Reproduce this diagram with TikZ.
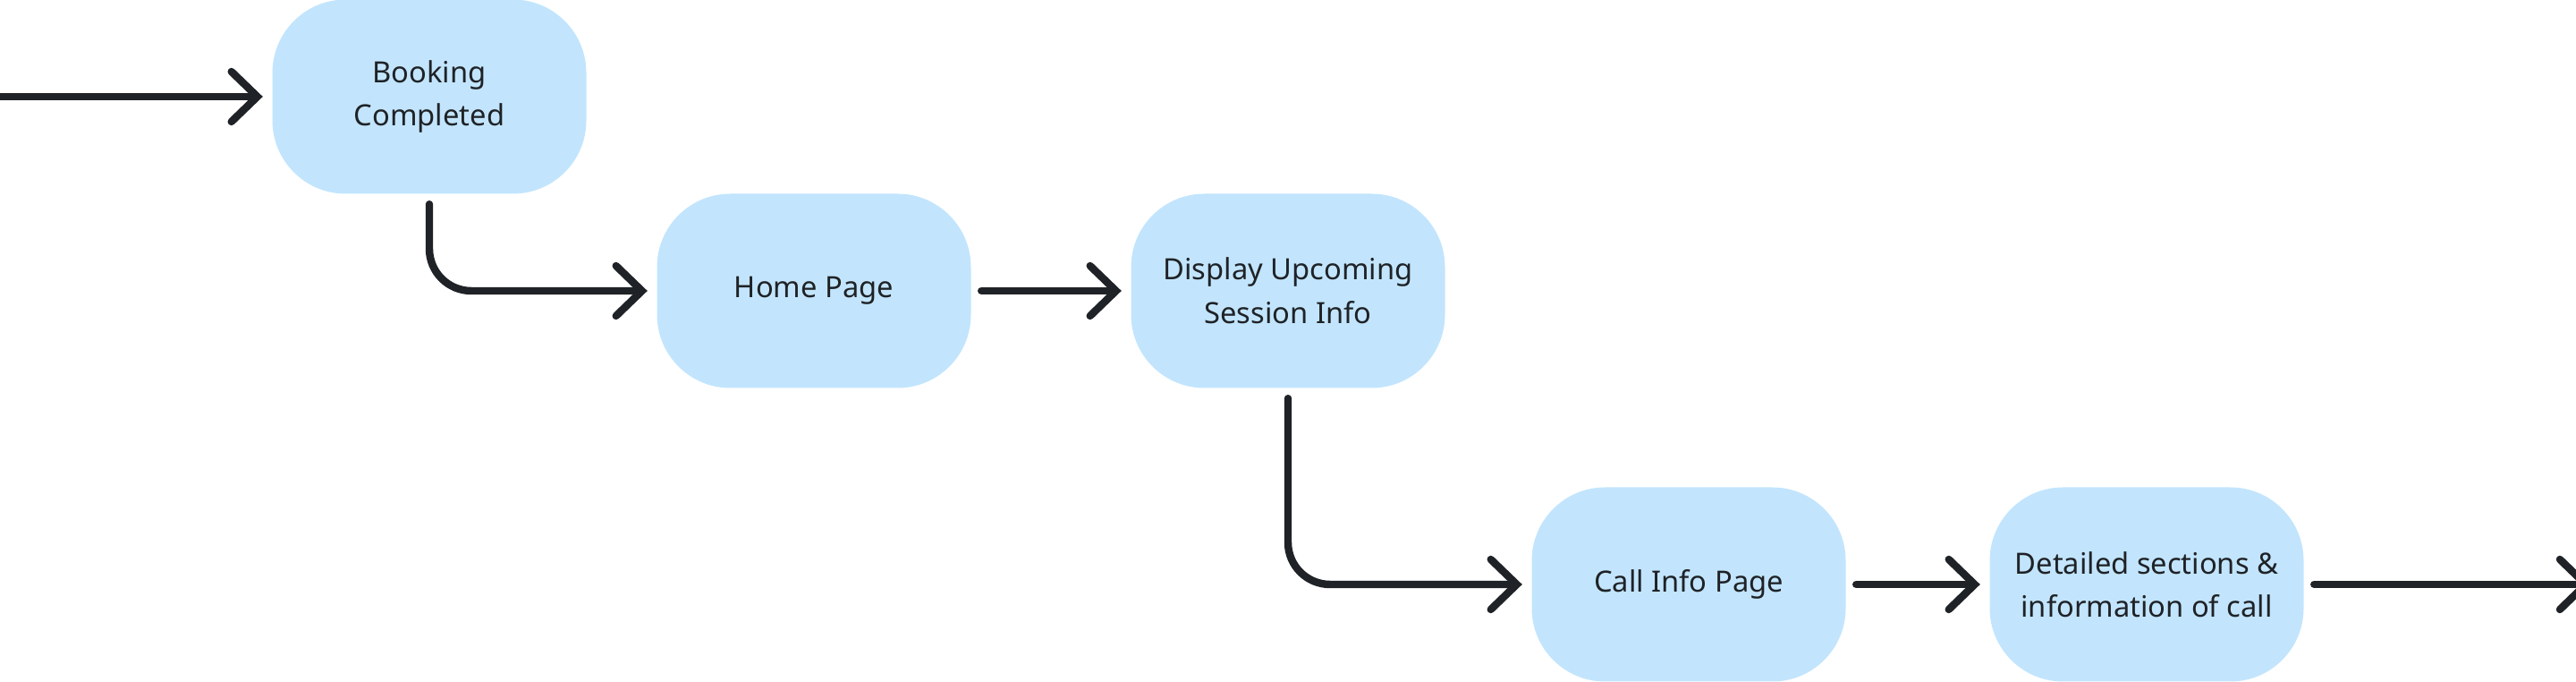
\documentclass[tikz,border=0pt]{standalone}
\usepackage{fontspec}
\setmainfont{Noto Sans}
\usetikzlibrary{arrows.meta}

\definecolor{boxblue}{HTML}{C2E5FD}
\definecolor{inkgray}{HTML}{1F2226}

\begin{document}
\begin{tikzpicture}[
  stepbox/.style={fill=boxblue, rounded corners=0.82cm, minimum width=3.51cm,
    minimum height=2.17cm, inner sep=0pt, align=center, text=inkgray,
    font=\fontsize{9.3}{13.8}\selectfont},
  flow/.style={line width=2.4pt, draw=inkgray, line cap=round, rounded corners=0.47cm,
    -{Straight Barb[length=2.9mm,width=5.6mm,line cap=round]},
    shorten <=0.11cm, shorten >=0.1cm}
]
\useasboundingbox (0,0) rectangle (28.8,7.62);

% draw boxes
\node [stepbox] (book) at (4.80,6.54) {Booking\\Completed};
\node [stepbox] (home) at (9.10,4.37) {Home Page};
\node [stepbox] (disp) at (14.40,4.37) {Display Upcoming\\Session Info};
\node [stepbox] (call) at (18.88,1.09) {Call Info Page};
\node [stepbox] (det) at (24.00,1.09) {Detailed sections \&\\information of call};

% loose ends
\coordinate (in) at (0,6.54);
\coordinate (out) at (28.97,1.09);

% draw arrows
\draw [flow, shorten <=0pt] (in) -- (book.west);
\draw [flow] (book.south) |- (home.west);
\draw [flow] (home.east) -- (disp.west);
\draw [flow] (disp.south) |- (call.west);
\draw [flow] (call.east) -- (det.west);
\draw [flow, shorten >=0pt] (det.east) -- (out);

\end{tikzpicture}
\end{document}
